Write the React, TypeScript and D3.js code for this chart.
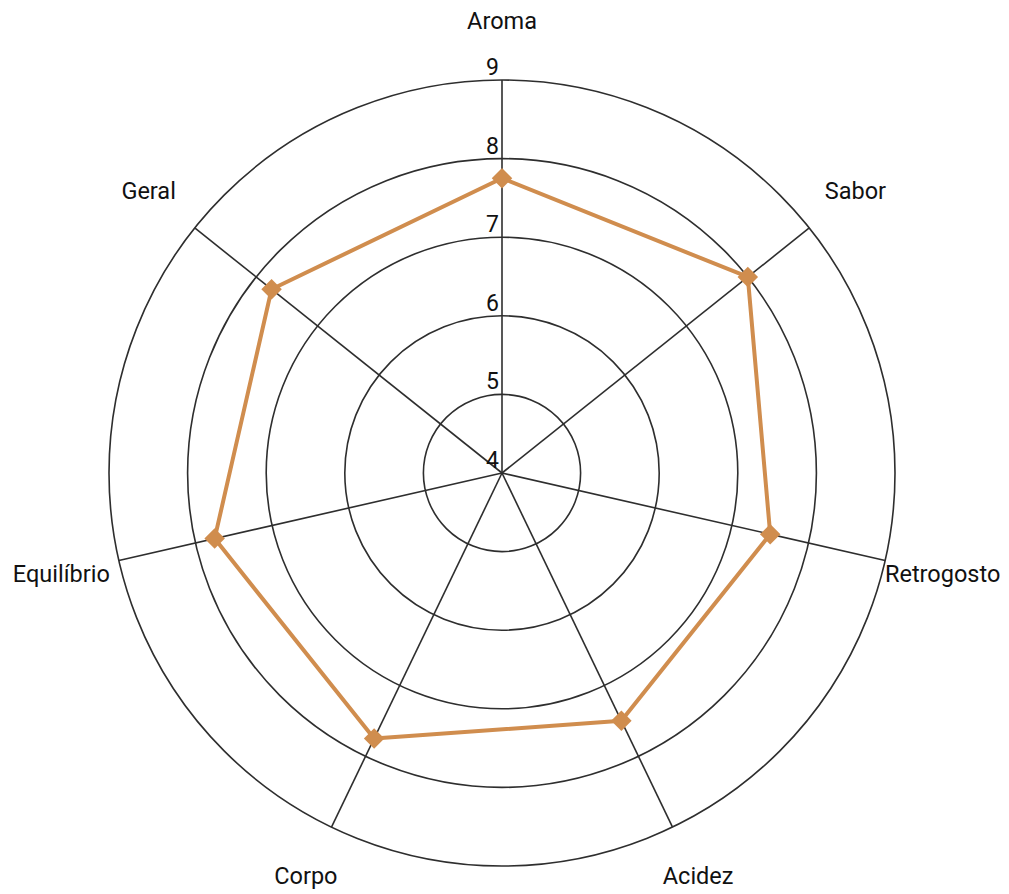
import React, { useEffect, useRef } from 'react';
import * as d3 from 'd3';

const categories = ['Aroma', 'Sabor', 'Retrogosto', 'Acidez', 'Corpo', 'Equilíbrio', 'Geral'];
const scores = [7.75, 8, 7.5, 7.5, 7.75, 7.75, 7.75];
const ticks = [4, 5, 6, 7, 8, 9];

const W = 1009;
const H = 894;

export default function App() {
  const svgRef = useRef<SVGSVGElement>(null);

  useEffect(() => {
    if (!svgRef.current) return;
    const svg = d3.select(svgRef.current);
    svg.selectAll('*').remove();

    const cx = 502;
    const cy = 473;
    const outer = 393;
    const labelR = 452;

    const r = d3.scaleLinear().domain([4, 9]).range([0, outer]);
    const angle = d3.scalePoint<string>()
      .domain(categories)
      .range([0, 2 * Math.PI * (categories.length - 1) / categories.length]);

    const px = (a: number, rad: number) => Math.sin(a) * rad;
    const py = (a: number, rad: number) => -Math.cos(a) * rad;

    const g = svg.append('g').attr('transform', `translate(${cx},${cy})`);

    // grid circles
    g.append('g')
      .selectAll('circle')
      .data(ticks.slice(1))
      .join('circle')
      .attr('r', d => r(d))
      .attr('fill', 'none')
      .attr('stroke', '#2e2e2e')
      .attr('stroke-width', 1.6);

    // spokes
    g.append('g')
      .selectAll('line')
      .data(categories)
      .join('line')
      .attr('x1', 0)
      .attr('y1', 0)
      .attr('x2', d => px(angle(d)!, outer))
      .attr('y2', d => py(angle(d)!, outer))
      .attr('stroke', '#2e2e2e')
      .attr('stroke-width', 1.6);

    // tick labels
    g.append('g')
      .selectAll('text')
      .data(ticks)
      .join('text')
      .attr('x', -3)
      .attr('y', d => -r(d) - 5)
      .attr('text-anchor', 'end')
      .attr('font-family', 'Roboto, sans-serif')
      .attr('font-size', 23)
      .attr('fill', '#111')
      .text(d => d);

    // axis labels (bottom ones nudged up a little so descenders stay inside)
    g.append('g')
      .selectAll('text')
      .data(categories)
      .join('text')
      .attr('x', d => px(angle(d)!, labelR))
      .attr('y', d => {
        const y = py(angle(d)!, labelR);
        return y > 350 ? y - 4 : y;
      })
      .attr('text-anchor', 'middle')
      .attr('dominant-baseline', 'central')
      .attr('font-family', 'Roboto, sans-serif')
      .attr('font-size', 23.5)
      .attr('fill', '#111')
      .text(d => d);

    const points: [number, number][] = categories.map((c, i) => [
      px(angle(c)!, r(scores[i])),
      py(angle(c)!, r(scores[i])),
    ]);

    const line = d3.line().curve(d3.curveLinearClosed);

    g.append('path')
      .attr('d', line(points))
      .attr('fill', 'none')
      .attr('stroke', '#d08d4e')
      .attr('stroke-width', 4)
      .attr('stroke-linejoin', 'round');

    const diamond = d3.symbol().type(d3.symbolSquare).size(210);
    g.append('g')
      .selectAll('path')
      .data(points)
      .join('path')
      .attr('d', diamond)
      .attr('transform', d => `translate(${d[0]},${d[1]}) rotate(45)`)
      .attr('fill', '#d08d4e');
  }, []);

  return (
    <svg
      ref={svgRef}
      width={W}
      height={H}
      style={{ position: 'absolute', left: 0, top: 0, display: 'block', background: '#fff' }}
    />
  );
}
